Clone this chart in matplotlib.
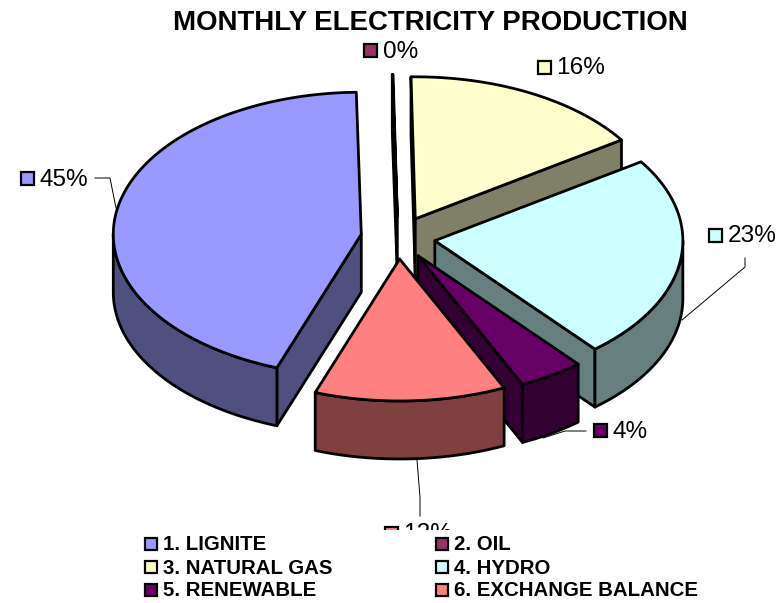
#!/usr/bin/env python3
"""Exploded pseudo-3D pie of monthly electricity production."""

import numpy as np
import matplotlib
matplotlib.use("Agg")
import matplotlib.pyplot as plt
from matplotlib.patches import Polygon, Rectangle

sources = ["1. LIGNITE", "2. OIL", "3. NATURAL GAS", "4. HYDRO", "5. RENEWABLE", "6. EXCHANGE BALANCE"]
# slice sizes, printed labels as shown on the chart
shares = [44.15, 0.05, 15.9, 23.2, 4.25, 12.45]
pct_labels = ["45%", "0%", "16%", "23%", "4%", "12%"]
top_colors = ["#9999FF", "#993366", "#FFFFCC", "#CCFFFF", "#660066", "#FF8080"]
wall_colors = ["#505080", "#4D1A33", "#808066", "#668080", "#330033", "#804040"]

START_ANGLE = 250.1
CX, CY = 398, 237.7
RX, RY = 248, 142
EXPLODE = 0.15
DEPTH = 58
LW = 2.0

plt.rcParams["font.family"] = ["Liberation Sans", "DejaVu Sans"]
fig = plt.figure(figsize=(7.83, 6.03), dpi=100)
ax = fig.add_axes([0, 0, 1, 1])
ax.set_xlim(0, 783)
ax.set_ylim(603, 0)
ax.axis("off")


def poly(pts, color, z):
    ax.add_patch(Polygon(pts, closed=True, facecolor=color, edgecolor="black",
                         linewidth=LW, joinstyle="round", zorder=z))


def rim(ox, oy, a0, a1):
    t = np.radians(np.linspace(a0, a1, max(int(abs(a1 - a0)) * 2, 2)))
    return np.column_stack([ox + RX * np.cos(t), oy - RY * np.sin(t)])


def down(pts):
    return pts + np.array([0, DEPTH])


# clockwise from the start angle
total = sum(shares)
edges = START_ANGLE - np.cumsum([0] + shares) / total * 360

# back pieces first so nearer ones overlap them
draw_order = [2, 1, 0, 3, 4, 5]
for rank, i in enumerate(draw_order):
    a0, a1 = edges[i], edges[i + 1]
    mid = np.radians((a0 + a1) / 2)
    ox = CX + EXPLODE * RX * np.cos(mid)
    oy = CY - EXPLODE * RY * np.sin(mid)
    z = 2 + rank
    apex = np.array([[ox, oy]])
    arc = rim(ox, oy, a0, a1)

    # cut faces that look towards the viewer
    if np.cos(np.radians(a0)) < 0:
        edge = np.vstack([apex, arc[:1]])
        poly(np.vstack([edge, down(edge)[::-1]]), wall_colors[i], z)
    if np.cos(np.radians(a1)) > 0:
        edge = np.vstack([apex, arc[-1:]])
        poly(np.vstack([edge, down(edge)[::-1]]), wall_colors[i], z)

    # outer wall, lower half of the ellipse only
    lo, hi = max(a1, -180), min(a0, 0)
    if a0 > 180:
        lo, hi = max(a1, 180), a0
    if hi > lo:
        wall = rim(ox, oy, hi, lo)
        poly(np.vstack([wall, down(wall)[::-1]]), wall_colors[i], z)

    poly(np.vstack([apex, arc]), top_colors[i], z)

# leader lines
leaders = [
    ([95, 110, 116], [178, 178, 208]),
    ([745, 745, 682], [258, 267, 320]),
    ([586, 565, 543], [431, 431, 438]),
    ([417, 420, 420], [460, 497, 516]),
]
for xs, ys in leaders:
    ax.plot(xs, ys, color="black", lw=0.7, zorder=10)

# value labels: swatch centre x, y for each slice
label_pos = [(27, 178), (370, 50), (544, 67), (715, 235), (600, 430), (391, 533)]
for i, (x, y) in enumerate(label_pos):
    ax.add_patch(Rectangle((x - 6.5, y - 6.5), 13, 13, facecolor=top_colors[i],
                           edgecolor="black", linewidth=1.6, zorder=11))
    ax.text(x + 12.5, y + 1.5, pct_labels[i], fontsize=17.6, va="center", ha="left",
            color="black", zorder=11)

ax.text(430, 22.5, "MONTHLY ELECTRICITY PRODUCTION", fontsize=19.9, fontweight="bold",
        ha="center", va="center")

# legend sits on a white panel that clips the 12% label
ax.add_patch(Rectangle((0, 530), 783, 73, facecolor="white", edgecolor="none", zorder=12))
legend_pos = [(151, 544), (442, 544), (151, 567), (442, 567), (151, 590), (442, 590)]
for i, (x, y) in enumerate(legend_pos):
    ax.add_patch(Rectangle((x - 6, y - 6), 12, 12, facecolor=top_colors[i],
                           edgecolor="black", linewidth=1.6, zorder=13))
    ax.text(x + 12, y + 1, sources[i], fontsize=14.7, fontweight="bold", va="center",
            ha="left", zorder=13)

fig.savefig("out.png", dpi=100)
plt.close(fig)
